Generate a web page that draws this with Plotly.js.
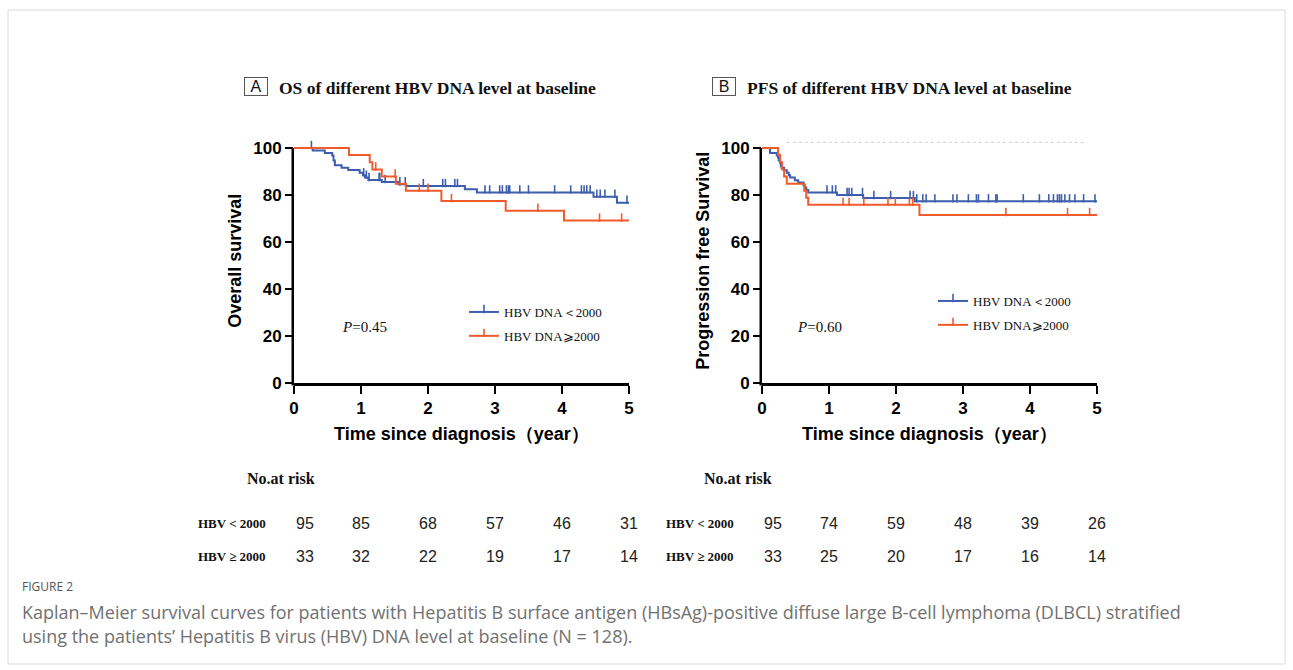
<!DOCTYPE html>
<html><head><meta charset="utf-8">
<script src="https://cdn.plot.ly/plotly-3.0.1.min.js"></script>
<style>body{margin:0;background:#fff}</style>
</head><body><div id="chart" style="width:1293px;height:670px"></div>
<script>
// ---------- DATA ----------
const horizon = 5;
// OS, HBV DNA < 2000
const osLowTime = [0, 0.28, 0.46, 0.57, 0.59, 0.61, 0.71, 0.81, 0.98, 1.03, 1.06, 1.11, 1.31, 1.56, 1.67, 2.55, 2.73, 4.47, 4.82];
const osLowSurv = [100, 98.9, 97.9, 96.8, 94.7, 92.7, 91.6, 90.6, 89.5, 88.4, 87.4, 86.4, 85.5, 84.6, 83.8, 82.4, 81.1, 79.3, 76.7];
const osLowCens = [0.26, 1.04, 1.08, 1.12, 1.27, 1.28, 1.36, 1.58, 1.66, 1.93, 2.22, 2.26, 2.40, 2.44, 2.85, 2.92, 3.07, 3.11, 3.17, 3.20, 3.22, 3.37, 3.50, 3.89, 4.13, 4.29, 4.33, 4.37, 4.42, 4.52, 4.57, 4.64, 4.79, 4.97];
// OS, HBV DNA >= 2000
const osHighTime = [0, 0.82, 1.13, 1.17, 1.31, 1.52, 1.67, 2.20, 3.16, 4.03];
const osHighSurv = [100, 97.0, 93.9, 90.9, 87.9, 84.8, 81.8, 77.4, 73.3, 69.1];
const osHighCens = [1.22, 1.51, 1.87, 2.00, 2.35, 3.64, 4.56, 4.89];
// PFS, HBV DNA < 2000
const pfsLowTime = [0, 0.12, 0.22, 0.24, 0.25, 0.27, 0.28, 0.29, 0.33, 0.37, 0.40, 0.42, 0.49, 0.54, 0.62, 0.64, 0.66, 0.69, 1.12, 1.51, 2.28];
const pfsLowSurv = [100, 97.9, 96.8, 95.8, 94.7, 93.7, 92.6, 91.6, 90.5, 89.5, 88.4, 87.4, 86.3, 85.3, 84.2, 83.2, 82.1, 81.1, 80.0, 78.7, 77.3];
const pfsLowCens = [0.97, 1.05, 1.10, 1.27, 1.30, 1.34, 1.50, 1.67, 1.92, 2.21, 2.26, 2.31, 2.40, 2.45, 2.58, 2.85, 2.91, 3.08, 3.20, 3.23, 3.38, 3.49, 3.51, 3.90, 4.14, 4.28, 4.35, 4.41, 4.44, 4.47, 4.52, 4.59, 4.67, 4.80, 4.97];
// PFS, HBV DNA >= 2000
const pfsHighTime = [0, 0.24, 0.27, 0.30, 0.33, 0.37, 0.63, 0.66, 0.69, 2.35];
const pfsHighSurv = [100, 97.0, 93.9, 90.9, 87.9, 84.8, 81.8, 78.8, 75.8, 71.5];
const pfsHighCens = [1.21, 1.30, 1.52, 1.88, 1.99, 2.20, 2.25, 3.64, 4.56, 4.89];
// number at risk
const riskTimes = [0, 1, 2, 3, 4, 5];
const osRiskLow = [95, 85, 68, 57, 46, 31];
const osRiskHigh = [33, 32, 22, 19, 17, 14];
const pfsRiskLow = [95, 74, 59, 48, 39, 26];
const pfsRiskHigh = [33, 25, 20, 17, 16, 14];
const xTicks = [0, 1, 2, 3, 4, 5];
const yTicks = [0, 20, 40, 60, 80, 100];
const seriesNames = ['HBV DNA＜2000', 'HBV DNA⩾2000'];
const riskLabels = ['HBV < 2000', 'HBV ≥ 2000'];
const pValues = ['0.45', '0.60'];
const refLine = {from: 0.37, to: 4.85, level: 102.4};
const captionLines = [
  'Kaplan–Meier survival curves for patients with Hepatitis B surface antigen (HBsAg)-positive diffuse large B-cell lymphoma (DLBCL) stratified',
  'using the patients’ Hepatitis B virus (HBV) DNA level at baseline (N = 128).'
];

// ---------- STYLE ----------
const W = 1293, H = 670;
const blue = '#3d5eae', red = '#f05a2c';
const xp = px => px / W, yp = py => 1 - py / H;
const yTop = 104;
const plotBottom = 383, plot100 = 148;
const plotTopPx = plotBottom - (plotBottom - plot100) * yTop / 100;
const domY = [yp(plotBottom), yp(plotTopPx)];
const domX1 = [xp(294), xp(629)];
const domX2 = [xp(762), xp(1097)];

function survAt(T, S, t) { let s = S[0]; for (let i = 0; i < T.length; i++) if (T[i] <= t) s = S[i]; return s; }

const censMarker = (c, ang) => ({symbol: 'line-ns', size: 6, angle: ang, standoff: 3, color: c, line: {color: c, width: 1.6}});
const traces = [];
function addGroup(T, S, C, color, xa, ya) {
  traces.push({x: T.concat([horizon]), y: S.concat([S[S.length - 1]]), xaxis: xa, yaxis: ya,
    mode: 'lines', line: {shape: 'hv', color: color, width: 2}, showlegend: false, hoverinfo: 'skip'});
  traces.push({x: C, y: C.map(t => survAt(T, S, t)), xaxis: xa, yaxis: ya, mode: 'markers', cliponaxis: false,
    marker: censMarker(color, 180), showlegend: false, hoverinfo: 'skip'});
}
addGroup(osLowTime, osLowSurv, osLowCens, blue, 'x', 'y');
addGroup(osHighTime, osHighSurv, osHighCens, red, 'x', 'y');
addGroup(pfsLowTime, pfsLowSurv, pfsLowCens, blue, 'x2', 'y2');
addGroup(pfsHighTime, pfsHighSurv, pfsHighCens, red, 'x2', 'y2');
[['legend', 'x', 'y'], ['legend2', 'x2', 'y2']].forEach(([lg, xa, ya]) => {
  [blue, red].forEach((c, i) => traces.push({x: [null], y: [null], xaxis: xa, yaxis: ya, legend: lg,
    name: seriesNames[i], legendgroup: lg + i, mode: 'lines+markers',
    line: {color: c, width: 2}, marker: censMarker(c, 0)}));
});

const tickFont = {family: 'Liberation Sans, Arial, sans-serif', size: 17, color: '#000', weight: 'bold'};
const titleFont = {family: 'Liberation Sans, Arial, sans-serif', size: 18, color: '#000', weight: 'bold'};
function xAxis(dom, anchor) {
  return {domain: dom, anchor: anchor, range: [0, horizon], tickvals: xTicks, showgrid: false, zeroline: false,
    showline: true, linecolor: '#000', linewidth: 2.5, ticks: 'outside', ticklen: 8, tickwidth: 2.5, tickcolor: '#000',
    tickfont: tickFont, fixedrange: true,
    title: {text: 'Time since diagnosis（year）', font: titleFont, standoff: 11}};
}
function yAxis(anchor, title) {
  return {domain: domY, anchor: anchor, range: [0, yTop], tickvals: yTicks, showgrid: false, zeroline: false,
    showline: false, ticks: 'outside', ticklen: 8, tickwidth: 2.5, tickcolor: '#000', tickfont: tickFont, fixedrange: true,
    title: {text: title, font: titleFont, standoff: 6}};
}

const serif = 'Liberation Serif, Times New Roman, serif';
const sans = 'Liberation Sans, Arial, sans-serif';
const ann = [];
function txt(o) { return Object.assign({xref: 'paper', yref: 'paper', showarrow: false, yanchor: 'middle', xanchor: 'left'}, o); }
function addPanel(letter, title, dom, xa, pv, pX, riskHeadX, risk) {
  const x0px = dom[0] * W;
  ann.push(txt({x: xp(x0px - 38), y: yp(87), xanchor: 'center', text: letter,
    font: {family: sans, size: 16, color: '#111'}, bordercolor: '#555', borderwidth: 1, borderpad: 0, width: 22, height: 17}));
  ann.push(txt({x: xp(x0px - 17), y: yp(88), text: title,
    font: {family: serif, size: 17.5, color: '#111', weight: 'bold'}}));
  ann.push(txt({x: xp(pX), y: yp(327), text: '<i>P</i>=' + pv, font: {family: serif, size: 15, color: '#111'}}));
  ann.push(txt({x: xp(riskHeadX), y: yp(478), text: 'No.at risk', font: {family: serif, size: 16, color: '#111', weight: 'bold'}}));
  [[risk[0], 523], [risk[1], 556]].forEach(([vals, py], r) => {
    ann.push(txt({x: xp(x0px - 98), y: yp(py), text: riskLabels[r], font: {family: serif, size: 13, color: '#111', weight: 'bold'}}));
    vals.forEach((v, i) => ann.push(txt({xref: xa, x: riskTimes[i], y: yp(py), xanchor: i === 0 ? 'left' : 'center',
      text: String(v), font: {family: sans, size: 16, color: '#222'}})));
  });
}
addPanel('A', 'OS of different HBV DNA level at baseline', domX1, 'x', pValues[0], 340, 245, [osRiskLow, osRiskHigh]);
addPanel('B', 'PFS of different HBV DNA level at baseline', domX2, 'x2', pValues[1], 795, 702, [pfsRiskLow, pfsRiskHigh]);
ann.push(txt({x: xp(20), y: yp(586), text: 'FIGURE 2', font: {family: 'Open Sans, sans-serif', size: 12, color: '#555'}}));
captionLines.forEach((line, i) => ann.push(txt({x: xp(20), y: yp(612 + 24 * i), text: line,
  font: {family: 'Open Sans, sans-serif', size: 18, color: '#717171'}})));

const shapes = [];
[domX1, domX2].forEach(d => shapes.push({type: 'line', xref: 'paper', yref: 'paper', x0: d[0] - 1.25 / W, x1: d[0] - 1.25 / W,
  y0: yp(plotBottom + 2.5), y1: yp(plot100), line: {color: '#000', width: 2.5}}));
shapes.push({type: 'line', xref: 'x2', yref: 'y2', x0: refLine.from, x1: refLine.to, y0: refLine.level, y1: refLine.level,
  line: {color: '#cfcfcf', width: 1, dash: 'dot'}});
shapes.push({type: 'rect', xref: 'paper', yref: 'paper', x0: xp(8), x1: xp(1285), y0: yp(10), y1: yp(664),
  line: {color: '#dcdcdc', width: 1}});

const legendBase = {xanchor: 'left', yanchor: 'top', bgcolor: 'rgba(0,0,0,0)', traceorder: 'grouped', tracegroupgap: 4,
  font: {family: serif, size: 13, color: '#111'}};
const layout = {
  width: W, height: H, autosize: false, margin: {l: 0, r: 0, t: 0, b: 0},
  paper_bgcolor: '#fff', plot_bgcolor: '#fff',
  xaxis: xAxis(domX1, 'y'), yaxis: yAxis('x', 'Overall survival'),
  xaxis2: xAxis(domX2, 'y2'), yaxis2: yAxis('x2', 'Progression free Survival'),
  legend: Object.assign({x: xp(464), y: yp(297)}, legendBase),
  legend2: Object.assign({x: xp(933), y: yp(286)}, legendBase),
  annotations: ann, shapes: shapes
};
Plotly.newPlot('chart', traces, layout, {displayModeBar: false, staticPlot: true});
</script></body></html>
